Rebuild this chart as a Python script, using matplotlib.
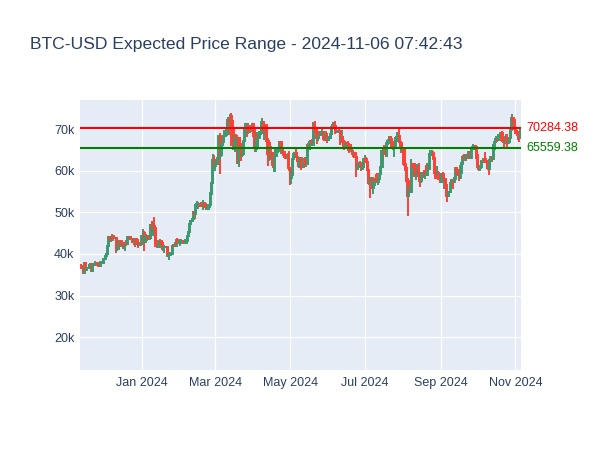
import numpy as np
import pandas as pd
import matplotlib
matplotlib.use("Agg")
import matplotlib.pyplot as plt
import matplotlib.dates as mdates
from matplotlib.ticker import FuncFormatter

plt.rcParams['font.family'] = ['Liberation Sans', 'DejaVu Sans']

# daily BTC-USD, thousands of USD, 2023-11-12 .. 2024-11-05
start_date = "2023-11-12"
first_open = 37.3

close_k = [
    # Nov 2023 (12-30)
    37.1, 36.5, 35.5, 37.9, 36.2, 36.6, 36.6, 37.4, 37.5, 35.8, 37.4, 37.3, 37.7, 37.8, 37.5, 37.2, 37.8, 37.9, 37.7,
    # Dec
    38.7, 39.5, 40.0, 42.0, 44.1, 43.8, 43.3, 44.2, 43.8, 43.8, 41.2, 41.5, 42.9, 43.0, 41.9, 42.3, 41.4, 42.7, 42.3, 43.7,
    43.9, 44.0, 43.7, 43.0, 43.6, 42.5, 43.4, 42.6, 42.1, 42.2, 42.3,
    # Jan 2024
    44.2, 45.0, 42.8, 44.2, 44.2, 44.0, 43.9, 47.0, 46.1, 46.6, 46.3, 42.8, 42.9, 41.7, 42.5, 43.1, 42.7, 41.3, 41.6, 41.7,
    41.6, 39.5, 39.8, 40.1, 39.9, 41.8, 42.1, 42.0, 43.3, 42.9, 42.6,
    # Feb
    43.1, 43.2, 43.0, 42.6, 42.7, 43.1, 44.3, 45.3, 47.1, 47.8, 48.3, 50.0, 49.7, 51.8, 51.9, 52.1, 51.7, 52.1, 51.8, 52.3,
    51.9, 51.3, 50.7, 51.6, 51.7, 54.5, 57.1, 62.5, 61.2,
    # Mar
    62.4, 62.0, 63.1, 68.3, 63.8, 66.1, 66.9, 68.3, 68.5, 69.0, 72.1, 71.5, 73.1, 71.4, 69.4, 65.3, 68.4, 67.6, 61.9, 67.9,
    65.5, 63.8, 64.0, 67.2, 69.9, 69.9, 69.5, 70.7, 69.9, 69.6, 71.3,
    # Apr
    69.7, 65.4, 66.0, 68.5, 67.8, 68.9, 69.4, 71.6, 69.1, 70.6, 70.0, 67.1, 63.9, 65.7, 63.4, 63.8, 61.3, 63.5, 63.8, 64.9,
    64.9, 66.8, 66.4, 64.3, 64.5, 63.8, 63.4, 63.1, 63.8, 60.6,
    # May
    58.3, 59.1, 62.9, 63.9, 64.0, 63.2, 62.3, 61.2, 63.1, 60.8, 60.8, 61.5, 62.9, 61.6, 66.3, 65.2, 67.0, 66.9, 66.3, 71.4,
    70.1, 69.1, 67.9, 68.5, 69.3, 68.5, 69.4, 68.3, 67.6, 68.4, 67.5,
    # Jun
    67.8, 67.8, 68.8, 70.6, 71.1, 70.8, 69.4, 69.3, 69.6, 69.5, 67.3, 68.2, 66.8, 66.0, 66.2, 66.6, 66.5, 65.1, 64.9, 64.8,
    64.1, 64.2, 63.2, 60.3, 61.8, 60.8, 61.6, 60.3, 60.9, 62.7,
    # Jul
    62.9, 62.0, 60.2, 57.0, 56.7, 58.2, 55.9, 56.7, 58.0, 57.7, 57.3, 57.9, 59.2, 60.8, 64.8, 65.0, 64.1, 63.9, 66.7, 67.2,
    68.2, 67.6, 65.9, 65.4, 65.8, 67.9, 68.0, 68.3, 66.8, 66.2, 64.6,
    # Aug
    65.4, 61.5, 60.7, 58.1, 54.0, 56.0, 55.0, 61.7, 60.9, 60.9, 58.7, 59.4, 60.6, 58.7, 57.6, 58.9, 59.5, 58.4, 59.5, 59.0,
    61.2, 60.4, 64.1, 64.2, 64.2, 62.8, 59.5, 59.0, 59.4, 59.1, 58.9,
    # Sep
    57.3, 59.1, 57.5, 58.0, 56.2, 53.9, 54.9, 55.0, 57.0, 57.6, 57.4, 58.1, 60.6, 60.0, 59.2, 58.2, 60.3, 61.8, 63.2, 63.0,
    63.4, 63.6, 63.3, 64.3, 63.1, 65.2, 65.8, 65.9, 65.6, 63.3,
    # Oct
    60.8, 60.6, 60.8, 62.1, 62.1, 62.8, 62.2, 62.1, 60.6, 60.3, 62.5, 63.2, 62.9, 66.1, 67.0, 67.6, 67.4, 68.4, 68.4, 69.0,
    67.4, 67.4, 66.7, 68.2, 66.6, 67.0, 67.9, 69.9, 72.7, 72.3, 70.2,
    # Nov 2024 (1-5)
    69.5, 69.3, 68.7, 67.8, 69.4,
]

high_k = [
    37.5, 37.4, 36.8, 38.0, 37.9, 36.8, 36.8, 37.5, 37.7, 37.8, 37.7, 37.6, 38.4, 37.9, 37.8, 37.6, 38.4, 38.4, 38.1,
    38.9, 39.6, 40.2, 42.2, 44.4, 44.3, 44.0, 44.7, 44.3, 44.0, 43.8, 42.0, 43.4, 43.4, 43.1, 42.7, 42.4, 42.8, 43.3, 44.3,
    44.2, 44.4, 44.0, 43.9, 43.8, 43.6, 43.7, 43.8, 43.1, 42.6, 42.8,
    44.2, 45.9, 45.5, 44.8, 44.4, 44.2, 44.5, 47.2, 47.9, 47.7, 48.9, 46.5, 43.3, 43.0, 43.4, 43.6, 43.2, 42.9, 42.2, 41.9,
    41.9, 41.7, 40.5, 40.5, 40.3, 42.2, 42.2, 42.8, 43.3, 43.8, 43.7,
    43.2, 43.5, 43.4, 43.1, 43.5, 43.4, 44.4, 45.6, 48.2, 48.2, 48.6, 50.3, 50.4, 52.0, 52.8, 52.6, 52.2, 52.4, 52.4, 52.9,
    52.3, 52.0, 51.5, 51.9, 52.0, 54.9, 57.5, 63.9, 63.7,
    62.8, 62.4, 63.3, 68.4, 69.0, 67.5, 67.9, 69.9, 68.6, 70.0, 72.8, 72.9, 73.6, 73.8, 72.3, 70.0, 68.6, 68.8, 68.0, 68.0,
    68.0, 66.6, 65.9, 67.5, 71.5, 71.4, 71.5, 71.5, 70.9, 70.2, 71.4,
    71.3, 69.7, 66.9, 69.2, 68.7, 69.6, 70.3, 72.7, 71.7, 71.0, 71.2, 71.2, 67.8, 65.8, 66.9, 64.4, 64.4, 64.0, 65.4, 65.4,
    65.7, 67.2, 67.2, 67.1, 65.2, 64.8, 63.9, 64.0, 64.2, 64.7,
    60.8, 59.6, 63.3, 64.5, 64.6, 65.5, 64.4, 62.9, 63.4, 63.4, 61.4, 61.8, 63.4, 63.1, 66.4, 66.7, 67.4, 67.4, 67.6, 71.5,
    71.9, 70.6, 70.0, 69.1, 69.5, 69.5, 70.6, 69.5, 68.8, 69.5, 69.0,
    68.0, 68.4, 70.2, 71.0, 71.8, 71.6, 71.9, 69.5, 69.9, 70.1, 69.6, 69.9, 68.4, 67.3, 66.4, 67.0, 67.2, 66.6, 65.7, 66.4,
    65.0, 64.5, 64.4, 63.3, 62.4, 62.2, 62.3, 62.2, 61.2, 63.0,
    63.8, 63.3, 62.1, 60.5, 57.5, 58.5, 58.4, 58.1, 58.3, 59.3, 59.4, 58.5, 59.8, 61.4, 64.9, 65.3, 66.1, 65.1, 67.4, 67.6,
    68.4, 68.4, 67.8, 67.1, 66.1, 68.2, 69.4, 68.4, 70.0, 66.9, 66.8,
    65.6, 65.6, 62.2, 61.1, 58.3, 57.0, 57.7, 62.7, 61.8, 61.5, 61.8, 60.6, 61.6, 61.8, 59.8, 59.8, 59.6, 60.2, 59.6, 61.4,
    61.8, 61.4, 64.9, 64.5, 65.0, 64.8, 63.2, 60.2, 61.1, 59.9, 59.4,
    59.0, 59.4, 59.8, 58.5, 58.3, 56.9, 54.9, 55.2, 58.1, 58.0, 57.9, 58.6, 60.6, 60.6, 60.4, 59.2, 61.3, 61.8, 63.8, 64.1,
    63.5, 64.0, 64.7, 64.7, 64.8, 65.8, 66.5, 66.3, 65.9, 65.6,
    64.1, 61.3, 61.1, 62.5, 62.3, 62.9, 64.4, 63.0, 62.5, 61.3, 63.4, 63.4, 63.3, 66.5, 67.9, 68.4, 67.8, 68.9, 68.6, 69.4,
    69.5, 67.8, 67.4, 68.8, 68.8, 67.4, 68.2, 70.3, 73.6, 72.9, 72.7,
    71.6, 69.7, 69.4, 68.8, 70.5,
]

low_k = [
    36.8, 36.3, 35.1, 35.4, 35.9, 35.9, 36.3, 36.3, 37.0, 35.7, 35.6, 37.1, 37.2, 37.6, 37.0, 36.8, 36.8, 37.6, 37.5,
    37.6, 38.6, 39.2, 39.9, 41.8, 43.3, 42.9, 43.2, 43.6, 43.6, 40.2, 40.7, 41.0, 42.6, 41.7, 41.8, 41.3, 40.6, 41.8, 42.2,
    43.3, 43.6, 43.3, 42.6, 42.8, 41.7, 42.3, 42.1, 41.5, 41.8, 42.0,
    42.2, 44.2, 40.8, 42.7, 43.0, 43.4, 43.6, 43.3, 45.2, 44.4, 45.6, 41.6, 42.5, 41.7, 41.8, 42.1, 42.2, 40.7, 40.3, 41.4,
    41.4, 39.5, 38.6, 39.5, 39.6, 39.8, 41.7, 41.8, 41.9, 42.7, 42.3,
    41.9, 42.5, 42.9, 42.3, 42.3, 42.6, 42.8, 44.2, 45.3, 47.0, 47.7, 47.7, 48.4, 49.3, 51.4, 50.7, 51.2, 51.4, 51.3, 50.6,
    51.0, 50.6, 50.6, 50.6, 51.3, 51.0, 54.5, 56.8, 60.5,
    59.9, 61.7, 61.3, 62.9, 59.2, 63.2, 66.0, 66.7, 68.2, 68.3, 68.9, 68.7, 71.3, 65.9, 65.6, 65.0, 64.6, 66.6, 61.6, 60.8,
    64.6, 62.3, 63.3, 63.9, 66.9, 68.7, 68.2, 68.9, 69.0, 69.6, 69.6,
    68.2, 64.6, 64.5, 65.1, 66.0, 67.7, 68.9, 69.3, 68.9, 67.5, 69.6, 65.1, 61.1, 62.4, 62.6, 61.7, 60.6, 59.8, 59.7, 63.3,
    64.3, 64.5, 65.9, 63.9, 63.8, 63.0, 62.9, 62.9, 62.0, 59.9,
    56.6, 56.9, 58.8, 62.7, 63.5, 63.0, 62.2, 60.7, 60.7, 60.2, 60.6, 60.6, 60.8, 60.9, 61.4, 64.6, 65.1, 66.6, 66.0, 66.1,
    69.2, 68.9, 66.4, 67.2, 68.8, 68.4, 68.3, 67.3, 67.2, 67.2, 66.7,
    67.4, 67.4, 67.7, 68.6, 70.4, 70.2, 68.8, 69.1, 69.2, 69.2, 66.1, 66.9, 66.3, 65.1, 65.9, 66.0, 64.9, 64.2, 64.7, 64.5,
    63.4, 64.0, 63.2, 58.4, 60.4, 60.6, 60.8, 60.0, 60.5, 60.7,
    62.5, 61.8, 59.9, 56.8, 53.5, 56.1, 55.8, 54.3, 56.3, 57.2, 57.0, 56.6, 57.8, 59.4, 60.7, 62.4, 63.9, 63.3, 63.3, 66.2,
    66.6, 66.6, 65.5, 65.1, 63.4, 65.9, 66.9, 67.1, 66.6, 65.4, 64.5,
    62.3, 61.1, 59.9, 57.3, 49.1, 54.0, 54.6, 55.0, 60.6, 60.4, 58.5, 57.7, 58.7, 58.5, 56.2, 57.1, 58.3, 58.4, 57.9, 58.8,
    58.9, 60.1, 60.4, 63.7, 63.6, 62.8, 58.1, 57.9, 58.9, 57.8, 58.6,
    57.2, 57.2, 57.4, 55.7, 55.8, 52.6, 53.8, 53.7, 54.6, 56.1, 55.6, 57.4, 57.6, 59.5, 58.7, 57.6, 58.3, 59.2, 61.4, 62.3,
    62.8, 62.4, 62.9, 62.8, 62.7, 62.8, 64.9, 65.5, 65.1, 62.9,
    60.2, 60.0, 59.9, 60.5, 61.8, 62.1, 62.1, 61.8, 60.4, 58.9, 60.1, 62.4, 62.0, 62.9, 64.9, 66.7, 66.8, 67.2, 68.0, 68.3,
    66.8, 66.6, 65.3, 66.5, 65.5, 66.5, 66.8, 67.6, 69.8, 71.4, 69.7,
    68.8, 69.0, 67.5, 66.8, 67.8,
]

upper_level = 70284.38
lower_level = 65559.38
title = "BTC-USD Expected Price Range - 2024-11-06 07:42:43"

close = np.array(close_k) * 1000
high = np.array(high_k) * 1000
low = np.array(low_k) * 1000
opn = np.concatenate([[first_open * 1000], close[:-1]])
dates = pd.date_range(start_date, periods=len(close), freq="D")

inc_color = "#3D9970"
dec_color = "#FF4136"
text_color = "#2a3f5f"

fig = plt.figure(figsize=(6, 4.5), dpi=100)
ax = fig.add_axes([80 / 600, 80 / 450, 441 / 600, 270 / 450])
ax.set_facecolor("#E5ECF6")
for s in ax.spines.values():
    s.set_visible(False)

colors = [inc_color if c >= o else dec_color for o, c in zip(opn, close)]
x = mdates.date2num(dates)
ax.vlines(x, low, high, colors=colors, linewidth=1.4, zorder=3)
bottoms = np.minimum(opn, close)
heights = np.abs(close - opn)
ax.bar(x, heights, bottom=bottoms, width=0.9, color=colors, edgecolor=colors,
       linewidth=1.4, zorder=3)

ax.axhline(upper_level, color="red", linewidth=1.5, zorder=4)
ax.axhline(lower_level, color="green", linewidth=1.5, zorder=4)
ax.annotate(f"{upper_level:.2f}", xy=(1.0, upper_level), xycoords=("axes fraction", "data"),
            xytext=(4, 0), textcoords="offset points", va="center", ha="left",
            color="red", fontsize=9)
ax.annotate(f"{lower_level:.2f}", xy=(1.0, lower_level), xycoords=("axes fraction", "data"),
            xytext=(4, 0), textcoords="offset points", va="center", ha="left",
            color="green", fontsize=9)

ax.set_xlim(mdates.date2num(pd.Timestamp("2023-11-11 12:00")),
            mdates.date2num(pd.Timestamp("2024-11-05 12:00")))
ax.set_ylim(12100, 77000)

ax.xaxis.set_major_locator(mdates.MonthLocator(bymonth=[1, 3, 5, 7, 9, 11]))
ax.xaxis.set_major_formatter(mdates.DateFormatter("%b %Y"))
ax.set_yticks([20000, 30000, 40000, 50000, 60000, 70000])
ax.yaxis.set_major_formatter(FuncFormatter(lambda v, p: f"{v / 1000:.0f}k"))
ax.grid(True, color="white", linewidth=0.9, zorder=0)
ax.set_axisbelow(True)
ax.tick_params(axis="both", length=0, labelsize=9, colors=text_color)
ax.tick_params(axis="x", pad=5)
ax.tick_params(axis="y", pad=4)

fig.text(30 / 600, 1 - 45 / 450, title, fontsize=12.6, color=text_color,
         va="center", ha="left")

fig.savefig("out.png", dpi=100)
